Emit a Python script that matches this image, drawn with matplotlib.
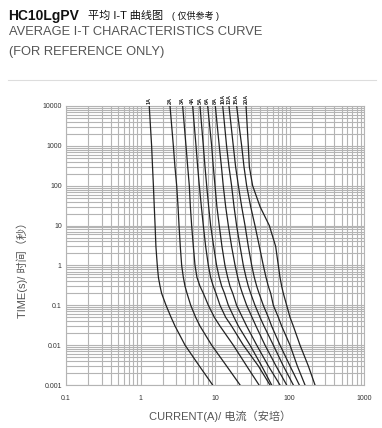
import matplotlib
matplotlib.use("Agg")
import matplotlib.pyplot as plt
from matplotlib.ticker import LogLocator, FixedLocator, NullFormatter

plt.rcParams['font.family'] = ['Liberation Sans', 'Noto Sans CJK SC', 'DejaVu Sans']

# time points (s) shared by all curves
times = [10000, 1000, 300, 100, 30, 10, 3, 1, 0.5, 0.3, 0.2, 0.1,
         0.05, 0.03, 0.01, 0.003, 0.001]

ratings = ["1A", "2A", "3A", "4A", "5A", "6A", "8A", "10A", "12A", "15A", "20A"]

# current (A) at each time point, per rating
cur_1a = [1.31, 1.41, 1.45, 1.49, 1.53, 1.57, 1.61, 1.68, 1.74, 1.83, 1.92, 2.20, 2.57, 2.91, 3.96, 6.16, 9.3]
cur_2a = [2.49, 2.76, 2.90, 3.06, 3.19, 3.29, 3.42, 3.57, 3.76, 3.96, 4.21, 4.72, 5.50, 6.29, 9.02, 14.3, 21.7]
cur_3a = [3.68, 4.08, 4.30, 4.52, 4.67, 4.86, 5.12, 5.39, 5.73, 6.29, 6.97, 8.14, 9.80, 11.67, 17.6, 26.6, 39.0]
cur_4a = [5.01, 5.56, 5.85, 6.16, 6.56, 6.97, 7.49, 8.14, 8.74, 9.49, 10.3, 11.67, 13.9, 16.7, 24.0, 38.2, 54.7]
cur_5a = [6.29, 6.97, 7.34, 7.73, 8.22, 8.74, 9.60, 10.5, 11.4, 12.3, 13.4, 15.1, 18.0, 20.6, 29.5, 42.3, 57.6]
cur_6a = [7.97, 9.02, 9.49, 10.0, 10.6, 11.4, 12.4, 13.6, 14.8, 15.9, 17.3, 19.5, 23.3, 26.6, 36.3, 52.0, 74.6]
cur_8a = [10.1, 11.4, 12.2, 12.9, 13.9, 15.1, 16.7, 18.6, 20.2, 21.7, 23.3, 26.6, 31.4, 35.5, 46.9, 65.9, 91.6]
cur_10a = [12.7, 14.3, 15.4, 16.7, 18.0, 19.5, 21.7, 24.0, 26.1, 28.0, 30.1, 34.4, 40.2, 45.5, 60.7, 82.6, 112.6]
cur_12a = [15.4, 17.6, 18.9, 20.6, 22.8, 25.3, 28.0, 31.1, 33.7, 36.3, 39.0, 44.5, 52.0, 57.6, 74.6, 101.6, 135.5]
cur_15a = [19.5, 22.8, 24.5, 26.6, 30.1, 34.4, 39.4, 44.5, 48.4, 52.0, 55.9, 60.7, 70.8, 78.5, 101.6, 127.4, 161.5]
cur_20a = [26.1, 28.0, 28.9, 32.0, 40.2, 53.6, 65.2, 70.8, 74.6, 78.5, 82.6, 91.6, 101.6, 112.6, 138.4, 179.0, 220.0]

curves = [cur_1a, cur_2a, cur_3a, cur_4a, cur_5a, cur_6a,
          cur_8a, cur_10a, cur_12a, cur_15a, cur_20a]

x_ticks = [0.1, 1, 10, 100, 1000]
x_tick_labels = ["0.1", "1", "10", "100", "1000"]
y_ticks = [0.001, 0.01, 0.1, 1, 10, 100, 1000, 10000]
y_tick_labels = ["0.001", "0.01", "0.1", "1", "10", "100", "1000", "10000"]

W, H = 382, 428
fig = plt.figure(figsize=(W / 100, H / 100), dpi=100)
ax = fig.add_axes([66 / W, 1 - 385 / H, (364 - 66) / W, (385 - 106) / H])

grid_col = "#b4b4b4"
for cur in curves:
    ax.plot(cur, times, color="#222222", lw=0.9, zorder=3)

ax.set_xscale("log")
ax.set_yscale("log")
ax.set_xlim(0.1, 1000)
ax.set_ylim(0.001, 10000)

ax.xaxis.set_major_locator(FixedLocator(x_ticks))
ax.yaxis.set_major_locator(FixedLocator(y_ticks))
ax.set_xticklabels(x_tick_labels)
ax.set_yticklabels(y_tick_labels)
ax.xaxis.set_minor_locator(LogLocator(base=10, subs=range(2, 10), numticks=20))
ax.yaxis.set_minor_locator(LogLocator(base=10, subs=range(2, 10), numticks=20))
ax.xaxis.set_minor_formatter(NullFormatter())
ax.yaxis.set_minor_formatter(NullFormatter())

ax.grid(which="both", color=grid_col, lw=0.8, zorder=1)
ax.tick_params(which="both", length=0, labelsize=5, colors="#333333")
ax.tick_params(axis="x", pad=7)
ax.tick_params(axis="y", pad=3)
for s in ax.spines.values():
    s.set_color(grid_col)
    s.set_linewidth(0.8)

# rating labels above the top of each curve
for name, cur in zip(ratings, curves):
    ax.annotate(name, (cur[0], 10000), xytext=(0, 1.5), textcoords="offset points",
                rotation=90, ha="center", va="bottom", fontsize=4,
                fontweight="bold", color="#222222", annotation_clip=False)

# axis titles
fig.text(220 / W, 1 - 416 / H, "CURRENT(A)/ 电流（安培）", fontsize=8,
         color="#555555", ha="center", va="center")
fig.text(22 / W, 1 - 267 / H, "TIME(s)/ 时间（秒）", fontsize=8,
         color="#555555", ha="center", va="center", rotation=90)

# header
fig.text(8 / W, 1 - 16 / H, "HC10LgPV", fontsize=10, fontweight="bold",
         color="#111111", va="center")
fig.text(88 / W, 1 - 16 / H, "平均 I-T 曲线图", fontsize=8,
         color="#111111", va="center")
fig.text(172 / W, 1 - 16 / H, "( 仅供参考 )", fontsize=6.5,
         color="#111111", va="center")
fig.text(9 / W, 1 - 32 / H, "AVERAGE I-T CHARACTERISTICS CURVE", fontsize=9.3,
         color="#555555", va="center")
fig.text(9 / W, 1 - 52 / H, "(FOR REFERENCE ONLY)", fontsize=9.3,
         color="#555555", va="center")
fig.add_artist(plt.Line2D([8 / W, 376 / W], [1 - 80 / H, 1 - 80 / H],
                          color="#dddddd", lw=0.8))

fig.savefig("out.png", dpi=100)
